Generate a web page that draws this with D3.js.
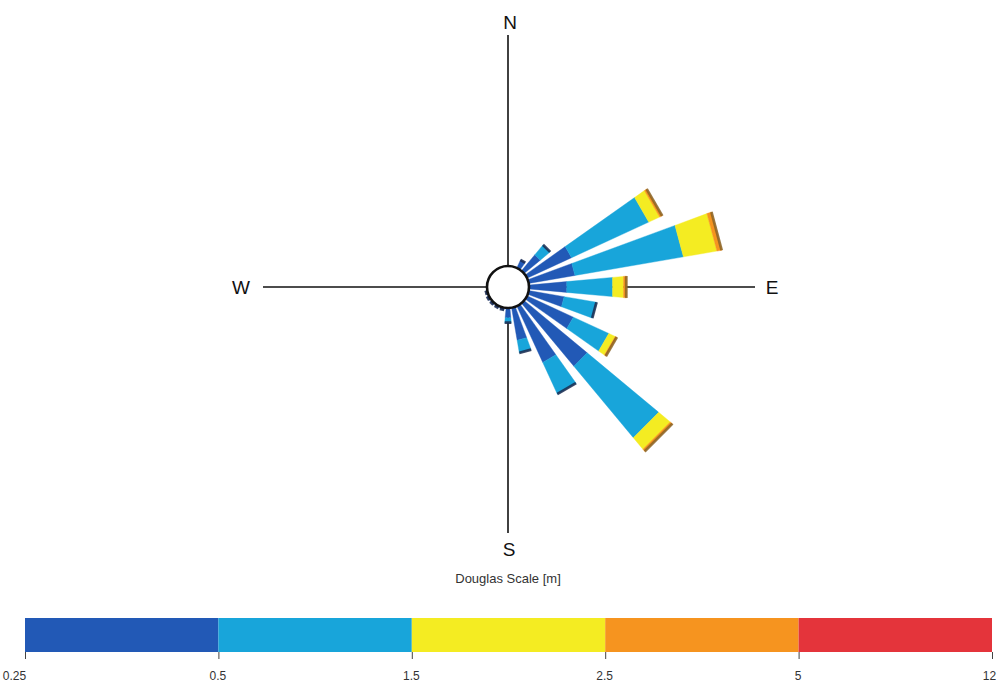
<!DOCTYPE html>
<html>
<head>
<meta charset="utf-8">
<script src="https://cdn.jsdelivr.net/npm/d3@7"></script>
<style>
  html, body { margin: 0; padding: 0; background: #fff; }
  svg { display: block; font-family: "Liberation Sans", Arial, sans-serif; }
</style>
</head>
<body>
<svg id="chart" width="1002" height="689"></svg>
<script>
// Direction sectors (degrees, clockwise from north), 15° apart
const directions = [0, 15, 30, 45, 60, 75, 90, 105, 120, 135, 150, 165,
                    180, 195, 210, 225, 240, 255, 270, 285, 300, 315, 330, 345];

// Frequency of occurrence (%) per wave-height class in each sector
const class025_05 = [0, 0, 0.36, 0.84, 1.96, 1.88, 1.52, 1.44, 2.04, 3.28, 2.48, 1.32,
                     0.40, 0.10, 0.09, 0.09, 0.09, 0.07, 0, 0, 0, 0, 0, 0];
const class05_15  = [0, 0, 0, 0.52, 3.40, 4.40, 1.84, 1.32, 1.56, 3.72, 1.40, 0.52,
                     0.20, 0, 0, 0, 0, 0, 0, 0, 0, 0, 0, 0];
const class15_25  = [0, 0, 0, 0, 0.48, 1.36, 0.44, 0, 0.28, 0.60, 0, 0,
                     0, 0, 0, 0, 0, 0, 0, 0, 0, 0, 0, 0];
const class25_5   = [0, 0, 0, 0, 0.12, 0.20, 0.12, 0, 0.08, 0.12, 0, 0,
                     0, 0, 0, 0, 0, 0, 0, 0, 0, 0, 0, 0];
const class5_12   = [0, 0, 0, 0, 0, 0, 0, 0, 0, 0, 0, 0,
                     0, 0, 0, 0, 0, 0, 0, 0, 0, 0, 0, 0];

// Douglas scale class edges (m) and class colours
const scaleTicks = ["0.25", "0.5", "1.5", "2.5", "5", "12"];
const classColors = ["#2259b6", "#18a5da", "#f4ec22", "#f6941f", "#e4343b"];
const classKeys = ["c0", "c1", "c2", "c3", "c4"];

const rows = directions.map((d, i) => ({
  dir: d,
  c0: class025_05[i], c1: class05_15[i], c2: class15_25[i], c3: class25_5[i], c4: class5_12[i]
}));

const svg = d3.select("#chart");
const cx = 508, cy = 287;
const hole = 21;
const axisLen = 248;

const r = d3.scaleLinear().domain([0, 8]).range([hole, hole + 200]);
const sectorWidth = 10.5 * Math.PI / 180;
const rad = d => d * Math.PI / 180;

// straight-edged sector segment between two radii
const seg = d3.lineRadial().curve(d3.curveLinearClosed);
const segPath = (dir, r0, r1) => {
  const a0 = rad(dir) - sectorWidth / 2, a1 = rad(dir) + sectorWidth / 2;
  return seg([[a0, r0], [a1, r0], [a1, r1], [a0, r1]]);
};

const stack = d3.stack().keys(classKeys)(rows);

const g = svg.append("g").attr("transform", `translate(${cx},${cy})`);

// compass axes
const axes = g.append("g").attr("stroke", "#111").attr("stroke-width", 1.6);
axes.append("line").attr("x1", 0).attr("y1", -axisLen - 4).attr("x2", 0).attr("y2", 0);
axes.append("line").attr("x1", 0).attr("y1", 0).attr("x2", 0).attr("y2", axisLen - 2);
axes.append("line").attr("x1", -axisLen + 3).attr("y1", 0).attr("x2", 0).attr("y2", 0);
axes.append("line").attr("x1", 0).attr("y1", 0).attr("x2", axisLen - 1).attr("y2", 0);

// stacked sector bars
stack.forEach((layer, li) => {
  g.append("g").selectAll("path")
    .data(layer.filter(s => s[1] > s[0]))
    .join("path")
    .attr("fill", classColors[li])
    .attr("stroke", classColors[li]).attr("stroke-width", 0.4)
    .attr("d", s => segPath(s.data.dir, r(s[0]), r(s[1])));
});

// dark rim at the outer end of each bar
const totals = rows.map(d => ({ dir: d.dir, total: d.c0 + d.c1 + d.c2 + d.c3 + d.c4, top: d.c3 > 0 }));
g.append("g").selectAll("path")
  .data(totals.filter(t => t.total > 0))
  .join("path")
  .attr("fill", t => t.top ? "#8a6326" : "#1c2a4e")
  .attr("opacity", 0.85)
  .attr("d", t => segPath(t.dir, Math.max(hole, r(t.total) - 1.6), r(t.total) + 1.2));

// centre circle
g.append("circle").attr("r", hole).attr("fill", "#fff")
  .attr("stroke", "#111").attr("stroke-width", 2.6);

// cardinal labels
const cardinals = [
  { t: "N", x: 2, y: -265 },
  { t: "S", x: 1, y: 262 },
  { t: "W", x: -267, y: 0 },
  { t: "E", x: 264, y: 0 }
];
g.append("g").selectAll("text").data(cardinals).join("text")
  .attr("x", d => d.x).attr("y", d => d.y)
  .attr("text-anchor", "middle").attr("dominant-baseline", "central")
  .attr("font-size", 19).attr("fill", "#111")
  .text(d => d.t);

// colour bar title
svg.append("text").attr("x", 508).attr("y", 583)
  .attr("text-anchor", "middle").attr("font-size", 13).attr("fill", "#333")
  .text("Douglas Scale [m]");

// colour bar with equally spaced classes
const bx = d3.scalePoint().domain(scaleTicks).range([25, 992]);
const barY = 618, barH = 34;
const cb = svg.append("g");
cb.selectAll("rect").data(classColors).join("rect")
  .attr("x", (c, i) => bx(scaleTicks[i]))
  .attr("y", barY)
  .attr("width", (c, i) => bx(scaleTicks[i + 1]) - bx(scaleTicks[i]))
  .attr("height", barH)
  .attr("fill", c => c);

const cbAxis = d3.axisBottom(bx).tickSize(7).tickSizeOuter(0);
const ax = svg.append("g").attr("transform", `translate(0,${barY + barH})`).call(cbAxis);
ax.select(".domain").remove();
ax.selectAll(".tick line").attr("stroke", "#444");
ax.selectAll(".tick text")
  .attr("font-size", 12).attr("fill", "#333").attr("dy", "1.5em")
  .attr("font-family", "'Liberation Sans', Arial, sans-serif")
  .attr("x", d => d === "0.25" ? -11 : (d === "12" ? -3 : -1));
</script>
</body>
</html>
